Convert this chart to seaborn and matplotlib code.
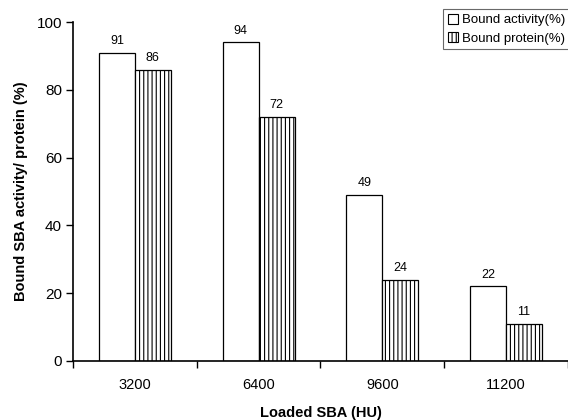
import matplotlib
matplotlib.use("Agg")
import matplotlib.pyplot as plt
import seaborn as sns
import pandas as pd

categories = ["3200", "6400", "9600", "11200"]
bound_activity = [91, 94, 49, 22]
bound_protein = [86, 72, 24, 11]
series_names = ["Bound activity(%)", "Bound protein(%)"]

df = pd.DataFrame({
    "Loaded": categories * 2,
    "value": bound_activity + bound_protein,
    "series": [series_names[0]] * 4 + [series_names[1]] * 4,
})

sns.set_style("white")
plt.rcParams["font.family"] = ["Liberation Sans", "DejaVu Sans"]
plt.rcParams["hatch.linewidth"] = 0.8
plt.rcParams["text.color"] = "black"
plt.rcParams["axes.labelcolor"] = "black"
plt.rcParams["xtick.color"] = "black"
plt.rcParams["ytick.color"] = "black"

fig = plt.figure(figsize=(5.68, 4.2), dpi=100)
ax = fig.add_axes([0.1285, 0.1405, 0.8715, 0.807])

sns.barplot(data=df, x="Loaded", y="value", hue="series", order=categories,
            hue_order=series_names, palette=["white", "white"],
            edgecolor="black", linewidth=0.9, width=0.58, ax=ax, legend=False)

containers = ax.containers
for bar in containers[1]:
    bar.set_hatch("||||")
for c in containers:
    ax.bar_label(c, labels=[f"{v:.0f}" for v in c.datavalues], padding=4,
                 fontsize=9, color="black")

ax.set_ylim(0, 100)
ax.set_xlim(-0.5, 3.5)
ax.set_yticks([0, 20, 40, 60, 80, 100])
ax.tick_params(axis="y", labelsize=11, length=5, width=1, direction="out", left=True, pad=3,
               colors="black")
ax.set_xticks([0, 1, 2, 3])
ax.set_xticklabels(categories)
ax.tick_params(axis="x", which="major", length=0, labelsize=10.5, pad=12, colors="black")
ax.set_xticks([-0.5, 0.5, 1.5, 2.5, 3.5], minor=True)
ax.tick_params(axis="x", which="minor", length=5, width=1, direction="out", bottom=True,
               colors="black")

for s in ["top", "right"]:
    ax.spines[s].set_visible(False)
for s in ["left", "bottom"]:
    ax.spines[s].set_color("black")
    ax.spines[s].set_linewidth(1.2)

ax.set_xlabel("Loaded SBA (HU)", fontsize=10.5, fontweight="bold", labelpad=10, color="black")
ax.set_ylabel("Bound SBA activity/ protein (%)", fontsize=10.5, fontweight="bold", labelpad=6,
              color="black")

from matplotlib.patches import Patch
handles = [Patch(facecolor="white", edgecolor="black", linewidth=0.8, label=series_names[0]),
           Patch(facecolor="white", edgecolor="black", linewidth=0.8, hatch="||||", label=series_names[1])]
leg = fig.legend(handles=handles, loc="upper left", bbox_to_anchor=(443 / 568, 1 - 9 / 420),
                 fontsize=9.5, frameon=True, fancybox=False, handlelength=0.8, handleheight=0.8,
                 handletextpad=0.3, borderpad=0.35, labelspacing=0.45, borderaxespad=0)
leg.get_frame().set_edgecolor("#444444")
leg.get_frame().set_linewidth(0.8)

fig.savefig("out.png", dpi=100)
